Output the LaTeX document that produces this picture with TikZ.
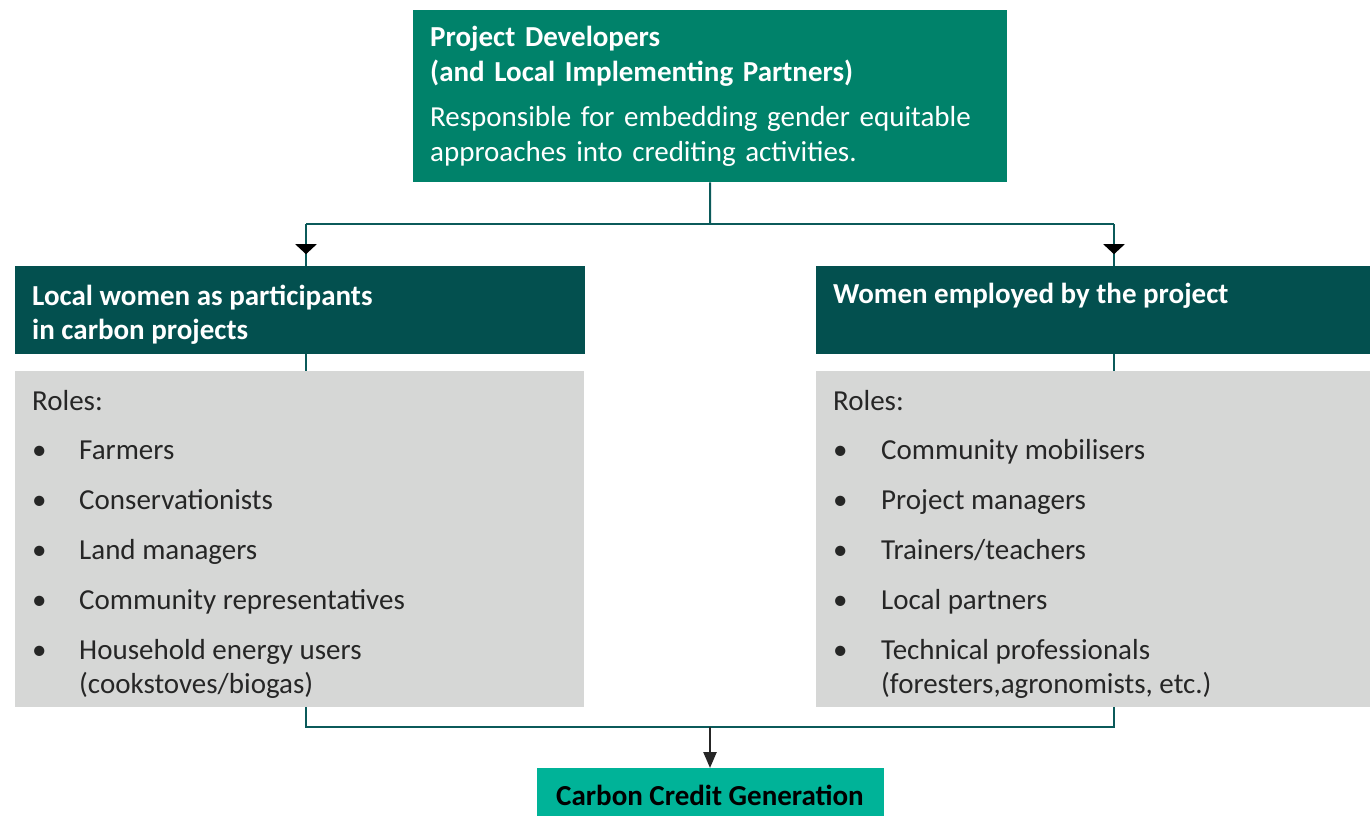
\documentclass[tikz,border=0pt]{standalone}
\usepackage{fontspec}
\setmainfont{Carlito}
\usetikzlibrary{arrows.meta,decorations.markings}

\definecolor{devgreen}{HTML}{00826A}
\definecolor{headteal}{HTML}{03504F}
\definecolor{linkteal}{HTML}{0B5A5A}
\definecolor{rolegrey}{HTML}{D6D7D6}
\definecolor{creditgreen}{HTML}{00B398}

% two lines that keep the baseline of the first one
\newcommand{\twolines}[2]{\vtop{\hbox{#1}\hbox{#2}}}

\tikzset{
  every node/.style={font=\fontsize{29}{35}\selectfont, inner sep=0pt},
  devbox/.style={fill=devgreen, text=white, anchor=north west, align=left,
    text width=560pt, inner xsep=17pt, minimum height=172pt},
  headbox/.style={fill=headteal, anchor=north west, minimum height=88pt},
  headtext/.style={text=white, anchor=base west,
    font=\fontsize{29}{34}\selectfont\bfseries},
  rolebox/.style={fill=rolegrey, anchor=north west, minimum height=336pt},
  roletext/.style={text=black!85, anchor=base west,
    font=\fontsize{29}{34}\selectfont},
  creditbox/.style={fill=creditgreen, anchor=north, minimum width=347pt,
    minimum height=54pt, font=\fontsize{29}{35}\selectfont\bfseries},
  link/.style={draw=linkteal, line width=2pt},
  drop/.style={link, postaction={decorate}, decoration={markings,
    mark=at position 0.72 with {\arrow[black]{Triangle[width=21pt,length=10pt]}}}},
  flow/.style={draw=black!85, line width=2.4pt, -{Triangle[width=13pt,length=16pt]}}
}

\begin{document}
\begin{tikzpicture}[x=1pt, y=-1pt]
\useasboundingbox (0,0) rectangle (1370,816);

\node [devbox] (dev) at (413,10) {%
  \textbf{Project Developers}\\
  \textbf{(and Local Implementing Partners)}\\[10pt]
  Responsible for embedding gender equitable\\
  approaches into crediting activities.};

\node [headbox, minimum width=570pt] (part) at (15,266) {};
\node [headbox, minimum width=554pt] (staff) at (816,266) {};
\node [headtext] (part-t) at ([xshift=17pt,yshift=-39pt]part.north west)
  {\twolines{Local women as participants}{in carbon projects}};
\node [headtext] (staff-t) at ([xshift=17pt,yshift=-37pt]staff.north west)
  {Women employed by the project};

\node [rolebox, minimum width=569pt] (partroles) at (15,371) {};
\node [rolebox, minimum width=554pt] (staffroles) at (816,371) {};

\node [creditbox] (credit) at (710,768) {Carbon Credit Generation};

% lines from the developers down to both groups
\coordinate (hub) at (710,224);
\coordinate (lft) at (306,224);
\coordinate (rgt) at (1114,224);
\draw [link] (dev.south) -- (hub);
\draw [link] (lft) -- (rgt);
\draw [drop] (lft) -- (part.north -| lft);
\draw [drop] (rgt) -- (staff.north -| rgt);
\draw [link] (part.south -| lft) -- (partroles.north -| lft);
\draw [link] (staff.south -| rgt) -- (staffroles.north -| rgt);

% both groups feed the credits
\coordinate (merge) at (710,727);
\draw [link] (partroles.south -| lft) -- (lft |- merge) -- (rgt |- merge)
  -- (staffroles.south -| rgt);
\draw [flow] (merge) -- (credit.north);

% role lists
\node [roletext] (part-r) at ([xshift=17pt,yshift=-39pt]partroles.north west) {Roles:};
\node [roletext] (staff-r) at ([xshift=17pt,yshift=-39pt]staffroles.north west) {Roles:};

\foreach \r [count=\i] in {Farmers, Conservationists, Land managers,
    Community representatives, {\twolines{Household energy users}{(cookstoves/biogas)}}} {
  \node [roletext] (part-b\i) at ([xshift=17pt,yshift=-38pt-50*\i]partroles.north west) {•};
  \node [roletext] (part-\i) at ([xshift=64pt,yshift=-38pt-50*\i]partroles.north west) {\r};
}

\foreach \r [count=\i] in {Community mobilisers, Project managers, Trainers/teachers,
    Local partners, {\twolines{Technical professionals}{(foresters,agronomists, etc.)}}} {
  \node [roletext] (staff-b\i) at ([xshift=17pt,yshift=-38pt-50*\i]staffroles.north west) {•};
  \node [roletext] (staff-\i) at ([xshift=65pt,yshift=-38pt-50*\i]staffroles.north west) {\r};
}

\end{tikzpicture}
\end{document}
